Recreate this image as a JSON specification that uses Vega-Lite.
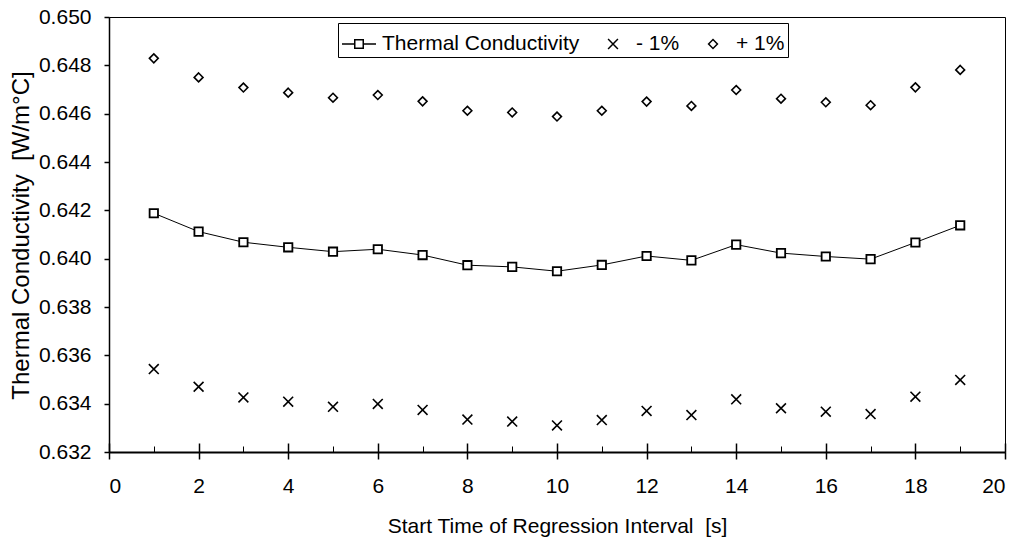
{
  "$schema": "https://vega.github.io/schema/vega-lite/v6.json",
  "autosize": {"type": "none"},
  "width": 896,
  "height": 435,
  "padding": {"left": 109, "top": 17, "right": 18, "bottom": 92},
  "background": "white",
  "config": {
    "view": {"stroke": "#000"},
    "font": "Liberation Sans",
    "axis": {"grid": false, "labelFont": "Liberation Sans", "titleFont": "Liberation Sans", "labelColor": "#000", "titleColor": "#000", "domainColor": "#000", "tickColor": "#000", "labelFontSize": 21, "titleFontSize": 21, "titleFontWeight": "normal"},
    "legend": {"labelFont": "Liberation Sans", "labelFontSize": 21, "labelColor": "#000"}
  },
  "data": {
    "values": [
      {"t": 1, "series": "tc", "k": 0.64188},
      {"t": 2, "series": "tc", "k": 0.64112},
      {"t": 3, "series": "tc", "k": 0.64068},
      {"t": 4, "series": "tc", "k": 0.64047},
      {"t": 5, "series": "tc", "k": 0.64029},
      {"t": 6, "series": "tc", "k": 0.64039},
      {"t": 7, "series": "tc", "k": 0.64015},
      {"t": 8, "series": "tc", "k": 0.63973},
      {"t": 9, "series": "tc", "k": 0.63966},
      {"t": 10, "series": "tc", "k": 0.63948},
      {"t": 11, "series": "tc", "k": 0.63974},
      {"t": 12, "series": "tc", "k": 0.64011},
      {"t": 13, "series": "tc", "k": 0.63993},
      {"t": 14, "series": "tc", "k": 0.64058},
      {"t": 15, "series": "tc", "k": 0.64023},
      {"t": 16, "series": "tc", "k": 0.64009},
      {"t": 17, "series": "tc", "k": 0.63998},
      {"t": 18, "series": "tc", "k": 0.64067},
      {"t": 19, "series": "tc", "k": 0.64138},
      {"t": 1, "series": "minus", "k": 0.63543},
      {"t": 2, "series": "minus", "k": 0.63470},
      {"t": 3, "series": "minus", "k": 0.63426},
      {"t": 4, "series": "minus", "k": 0.63408},
      {"t": 5, "series": "minus", "k": 0.63387},
      {"t": 6, "series": "minus", "k": 0.63399},
      {"t": 7, "series": "minus", "k": 0.63374},
      {"t": 8, "series": "minus", "k": 0.63334},
      {"t": 9, "series": "minus", "k": 0.63326},
      {"t": 10, "series": "minus", "k": 0.63310},
      {"t": 11, "series": "minus", "k": 0.63332},
      {"t": 12, "series": "minus", "k": 0.63370},
      {"t": 13, "series": "minus", "k": 0.63353},
      {"t": 14, "series": "minus", "k": 0.63418},
      {"t": 15, "series": "minus", "k": 0.63381},
      {"t": 16, "series": "minus", "k": 0.63367},
      {"t": 17, "series": "minus", "k": 0.63357},
      {"t": 18, "series": "minus", "k": 0.63429},
      {"t": 19, "series": "minus", "k": 0.63498},
      {"t": 1, "series": "plus", "k": 0.64829},
      {"t": 2, "series": "plus", "k": 0.64750},
      {"t": 3, "series": "plus", "k": 0.64708},
      {"t": 4, "series": "plus", "k": 0.64687},
      {"t": 5, "series": "plus", "k": 0.64666},
      {"t": 6, "series": "plus", "k": 0.64677},
      {"t": 7, "series": "plus", "k": 0.64651},
      {"t": 8, "series": "plus", "k": 0.64612},
      {"t": 9, "series": "plus", "k": 0.64605},
      {"t": 10, "series": "plus", "k": 0.64588},
      {"t": 11, "series": "plus", "k": 0.64612},
      {"t": 12, "series": "plus", "k": 0.64650},
      {"t": 13, "series": "plus", "k": 0.64632},
      {"t": 14, "series": "plus", "k": 0.64698},
      {"t": 15, "series": "plus", "k": 0.64662},
      {"t": 16, "series": "plus", "k": 0.64647},
      {"t": 17, "series": "plus", "k": 0.64635},
      {"t": 18, "series": "plus", "k": 0.64709},
      {"t": 19, "series": "plus", "k": 0.64781}
    ]
  },
  "encoding": {
    "y": {
      "field": "k", "type": "quantitative",
      "scale": {"domain": [0.632, 0.65], "nice": false, "zero": false},
      "axis": {
        "values": [0.632, 0.634, 0.636, 0.638, 0.64, 0.642, 0.644, 0.646, 0.648, 0.65],
        "format": ".3f",
        "title": "Thermal Conductivity \u00a0[W/m°C]",
        "titleFontSize": 24,
        "tickSize": 5, "tickWidth": 1.5, "domainWidth": 1.5, "labelPadding": 13,
        "titleX": -88, "titleY": 218, "titleAngle": -90, "titleBaseline": "middle", "titleAlign": "center"
      }
    }
  },
  "layer": [
    {
      "transform": [{"filter": "datum.series === 'tc'"}],
      "mark": {"type": "line", "color": "#000", "strokeWidth": 1},
      "encoding": {
        "x": {
          "field": "t", "type": "quantitative",
          "scale": {"domain": [0, 20], "nice": false, "zero": false},
          "axis": {
            "orient": "bottom",
            "values": [0, 2, 4, 6, 8, 10, 12, 14, 16, 18, 20],
            "title": "Start Time of Regression Interval \u00a0[s]",
            "tickSize": 7, "tickWidth": 1.5, "domainWidth": 2,
            "labelPadding": 27, "labelBaseline": "middle",
            "titleX": 448, "titleY": 74, "titleBaseline": "middle", "titleAlign": "center"
          }
        }
      }
    },
    {
      "transform": [{"filter": "datum.series === 'tc'"}],
      "mark": {"type": "point", "shape": "square", "filled": true, "fill": "white", "stroke": "#000", "strokeWidth": 1.8, "size": 70, "opacity": 1},
      "encoding": {
        "x": {
          "field": "t", "type": "quantitative",
          "scale": {"domain": [0, 20], "nice": false, "zero": false},
          "axis": {
            "orient": "top",
            "offset": -435,
            "values": [0, 2, 4, 6, 8, 10, 12, 14, 16, 18, 20],
            "labels": false, "domain": false, "title": null,
            "tickSize": 9, "tickWidth": 1.5
          }
        }
      }
    },
    {
      "transform": [{"filter": "datum.series !== 'tc'"}],
      "mark": {"type": "point", "filled": false, "stroke": "#000", "strokeWidth": 1.6, "size": 1156, "opacity": 1},
      "encoding": {
        "x": {
          "field": "t", "type": "quantitative",
          "scale": {"domain": [0, 20], "nice": false, "zero": false},
          "axis": {
            "orient": "top",
            "offset": -435,
            "values": [1, 3, 5, 7, 9, 11, 13, 15, 17, 19],
            "labels": false, "domain": false, "title": null,
            "tickSize": 6, "tickWidth": 1
          }
        },
        "shape": {
          "field": "series", "type": "nominal",
          "scale": {
            "domain": ["tc", "minus", "plus"],
            "range": [
              "M-1,0L-0.25,0M0.25,0L1,0M-0.25,-0.25L0.25,-0.25L0.25,0.25L-0.25,0.25Z",
              "M-0.29,-0.29L0.29,0.29M-0.29,0.29L0.29,-0.29",
              "M0,-0.26L0.26,0L0,0.26L-0.26,0Z"
            ]
          },
          "legend": {
            "title": null,
            "orient": "none",
            "legendX": 229,
            "legendY": 6,
            "direction": "horizontal",
            "labelExpr": "datum.label === 'tc' ? 'Thermal Conductivity' : datum.label === 'minus' ? '- 1%' : '+ 1%'",
            "labelLimit": 400,
            "symbolSize": 1156,
            "symbolStrokeColor": "#000",
            "symbolFillColor": "white",
            "symbolStrokeWidth": 1.5,
            "labelOffset": 5,
            "columnPadding": 15,
            "padding": 3,
            "fillColor": "white",
            "strokeColor": "#000"
          }
        }
      }
    }
  ],
  "resolve": {"scale": {"x": "independent"}, "axis": {"x": "independent"}}
}
